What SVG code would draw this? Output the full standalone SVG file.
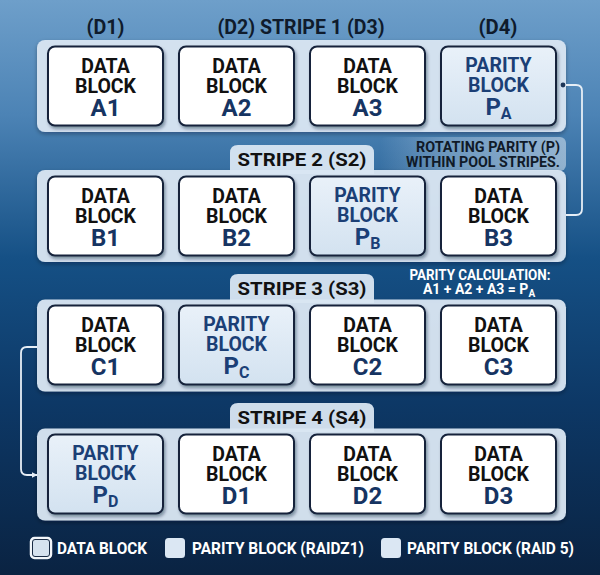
<svg xmlns="http://www.w3.org/2000/svg" width="600" height="575" viewBox="0 0 600 575">
<defs>
<linearGradient id="bg" x1="0" y1="0" x2="0" y2="1">
<stop offset="0" stop-color="#6e9fca"/>
<stop offset="0.2" stop-color="#4c83b5"/>
<stop offset="0.45" stop-color="#155085"/>
<stop offset="0.7" stop-color="#0d3866"/>
<stop offset="1" stop-color="#0a2342"/>
</linearGradient>
<linearGradient id="pfill" x1="0" y1="0" x2="0" y2="1">
<stop offset="0" stop-color="#e9f1f9"/>
<stop offset="1" stop-color="#d3e2f0"/>
</linearGradient>
<linearGradient id="noteBg" x1="0" y1="0" x2="1" y2="0">
<stop offset="0" stop-color="#dbe7f2" stop-opacity="0"/>
<stop offset="0.35" stop-color="#dbe7f2" stop-opacity="0.3"/>
<stop offset="1" stop-color="#dbe7f2" stop-opacity="0.55"/>
</linearGradient>
<filter id="sh" x="-10%" y="-10%" width="130%" height="130%">
<feDropShadow dx="1.5" dy="2.5" stdDeviation="1.6" flood-color="#0a1a30" flood-opacity="0.4"/>
</filter>
<filter id="psh" x="-5%" y="-10%" width="110%" height="130%">
<feDropShadow dx="0" dy="2" stdDeviation="2" flood-color="#04101f" flood-opacity="0.35"/>
</filter>
<marker id="arr" viewBox="0 0 10 10" refX="9" refY="5" markerWidth="6" markerHeight="6" orient="auto" markerUnits="userSpaceOnUse">
<path d="M0,0 L10,5 L0,10 z" fill="#e6eef6"/>
</marker>
</defs>
<style>
text{font-family:Roboto,"Liberation Sans",sans-serif;font-weight:700}
.panel{fill:#d9e6f2;fill-opacity:0.95}
.box{fill:#ffffff;stroke:#14233a;stroke-width:2}
.pbox{fill:url(#pfill);stroke:#14233a;stroke-width:2}
.hdr{font-size:20px;fill:#0f1b2c;text-anchor:middle}
.tab{font-size:19px;fill:#111111;text-anchor:middle}
.bt{font-size:19.5px;fill:#111111;text-anchor:middle}
.bl{font-size:24px;fill:#163462;text-anchor:middle}
.pt{font-size:19.5px;fill:#1b3f76;text-anchor:middle}
.pl{font-size:24px;fill:#1b3f76;text-anchor:middle}
.sub{font-size:16px}
.note{font-size:14px;fill:#101a28;text-anchor:end}
.calc{font-size:14px;fill:#ffffff;text-anchor:middle}
.leg{font-size:16px;fill:#ffffff}
.conn{fill:none;stroke:#e6eef6;stroke-width:1.8}
</style>
<rect width="600" height="575" fill="url(#bg)"/>

<g id="headers">
<text class="hdr" x="105.5" y="34" textLength="38" lengthAdjust="spacingAndGlyphs">(D1)</text>
<text class="hdr" x="301" y="34" textLength="167" lengthAdjust="spacingAndGlyphs">(D2) STRIPE 1 (D3)</text>
<text class="hdr" x="498" y="34" textLength="39" lengthAdjust="spacingAndGlyphs">(D4)</text>
</g>

<rect x="380" y="137" width="186" height="34" rx="6" fill="url(#noteBg)"/>

<g id="stripe1">
<rect class="panel" x="37" y="40" width="529" height="92" rx="8" filter="url(#psh)"/>
</g>
<g id="stripe2">
<rect class="panel" x="37" y="170" width="529" height="92" rx="8" filter="url(#psh)"/>
<path class="panel" d="M230,174 V153 Q230,145 238,145 H366 Q374,145 374,153 V174 Z" fill-opacity="1"/>
<text class="tab" x="302" y="166" textLength="129" lengthAdjust="spacingAndGlyphs">STRIPE 2 (S2)</text>
</g>
<g id="stripe3">
<rect class="panel" x="37" y="299.5" width="529" height="92" rx="8" filter="url(#psh)"/>
<path class="panel" d="M230,303 V282 Q230,274 238,274 H366 Q374,274 374,282 V303 Z" fill-opacity="1"/>
<text class="tab" x="302" y="295" textLength="129" lengthAdjust="spacingAndGlyphs">STRIPE 3 (S3)</text>
</g>
<g id="stripe4">
<rect class="panel" x="37" y="428.5" width="529" height="92" rx="8" filter="url(#psh)"/>
<path class="panel" d="M230,432 V411 Q230,403 238,403 H366 Q374,403 374,411 V432 Z" fill-opacity="1"/>
<text class="tab" x="302" y="424" textLength="129" lengthAdjust="spacingAndGlyphs">STRIPE 4 (S4)</text>
</g>

<g id="note-rotating">
<text class="note" x="560" y="152" textLength="144" lengthAdjust="spacingAndGlyphs">ROTATING PARITY (P)</text>
<text class="note" x="560" y="167" textLength="154" lengthAdjust="spacingAndGlyphs">WITHIN POOL STRIPES.</text>
</g>
<g id="note-calc">
<text class="calc" x="480" y="280" textLength="141" lengthAdjust="spacingAndGlyphs">PARITY CALCULATION:</text>
<text class="calc" x="479" y="294">A1 + A2 + A3 = P<tspan font-size="10px" dy="3">A</tspan></text>
</g>

<g id="A1"><rect class="box" x="48" y="46.5" width="115" height="79" rx="7" filter="url(#sh)"/>
<text class="bt" x="105.5" y="72.5">DATA</text><text class="bt" x="105.5" y="92.5">BLOCK</text><text class="bl" x="105.5" y="115.5">A1</text></g>
<g id="A2"><rect class="box" x="179" y="46.5" width="115" height="79" rx="7" filter="url(#sh)"/>
<text class="bt" x="236.5" y="72.5">DATA</text><text class="bt" x="236.5" y="92.5">BLOCK</text><text class="bl" x="236.5" y="115.5">A2</text></g>
<g id="A3"><rect class="box" x="310" y="46.5" width="115" height="79" rx="7" filter="url(#sh)"/>
<text class="bt" x="367.5" y="72.5">DATA</text><text class="bt" x="367.5" y="92.5">BLOCK</text><text class="bl" x="367.5" y="115.5">A3</text></g>
<g id="PA"><rect class="pbox" x="441" y="46.5" width="115" height="79" rx="7" filter="url(#sh)"/>
<text class="pt" x="498.5" y="71.5">PARITY</text><text class="pt" x="498.5" y="91.5">BLOCK</text><text class="pl" x="498.5" y="114.5">P<tspan class="sub" dy="4">A</tspan></text></g>

<g id="B1"><rect class="box" x="48" y="176.5" width="115" height="79" rx="7" filter="url(#sh)"/>
<text class="bt" x="105.5" y="202.5">DATA</text><text class="bt" x="105.5" y="222.5">BLOCK</text><text class="bl" x="105.5" y="245.5">B1</text></g>
<g id="B2"><rect class="box" x="179" y="176.5" width="115" height="79" rx="7" filter="url(#sh)"/>
<text class="bt" x="236.5" y="202.5">DATA</text><text class="bt" x="236.5" y="222.5">BLOCK</text><text class="bl" x="236.5" y="245.5">B2</text></g>
<g id="PB"><rect class="pbox" x="310" y="176.5" width="115" height="79" rx="7" filter="url(#sh)"/>
<text class="pt" x="367.5" y="201.5">PARITY</text><text class="pt" x="367.5" y="221.5">BLOCK</text><text class="pl" x="367.5" y="244.5">P<tspan class="sub" dy="4">B</tspan></text></g>
<g id="B3"><rect class="box" x="441" y="176.5" width="115" height="79" rx="7" filter="url(#sh)"/>
<text class="bt" x="498.5" y="202.5">DATA</text><text class="bt" x="498.5" y="222.5">BLOCK</text><text class="bl" x="498.5" y="245.5">B3</text></g>

<g id="C1"><rect class="box" x="48" y="305.5" width="115" height="79" rx="7" filter="url(#sh)"/>
<text class="bt" x="105.5" y="331.5">DATA</text><text class="bt" x="105.5" y="351.5">BLOCK</text><text class="bl" x="105.5" y="374.5">C1</text></g>
<g id="PC"><rect class="pbox" x="179" y="305.5" width="115" height="79" rx="7" filter="url(#sh)"/>
<text class="pt" x="236.5" y="330.5">PARITY</text><text class="pt" x="236.5" y="350.5">BLOCK</text><text class="pl" x="236.5" y="373.5">P<tspan class="sub" dy="4">C</tspan></text></g>
<g id="C2"><rect class="box" x="310" y="305.5" width="115" height="79" rx="7" filter="url(#sh)"/>
<text class="bt" x="367.5" y="331.5">DATA</text><text class="bt" x="367.5" y="351.5">BLOCK</text><text class="bl" x="367.5" y="374.5">C2</text></g>
<g id="C3"><rect class="box" x="441" y="305.5" width="115" height="79" rx="7" filter="url(#sh)"/>
<text class="bt" x="498.5" y="331.5">DATA</text><text class="bt" x="498.5" y="351.5">BLOCK</text><text class="bl" x="498.5" y="374.5">C3</text></g>

<g id="PD"><rect class="pbox" x="48" y="434.5" width="115" height="79" rx="7" filter="url(#sh)"/>
<text class="pt" x="105.5" y="459.5">PARITY</text><text class="pt" x="105.5" y="479.5">BLOCK</text><text class="pl" x="105.5" y="502.5">P<tspan class="sub" dy="4">D</tspan></text></g>
<g id="D1"><rect class="box" x="179" y="434.5" width="115" height="79" rx="7" filter="url(#sh)"/>
<text class="bt" x="236.5" y="460.5">DATA</text><text class="bt" x="236.5" y="480.5">BLOCK</text><text class="bl" x="236.5" y="503.5">D1</text></g>
<g id="D2"><rect class="box" x="310" y="434.5" width="115" height="79" rx="7" filter="url(#sh)"/>
<text class="bt" x="367.5" y="460.5">DATA</text><text class="bt" x="367.5" y="480.5">BLOCK</text><text class="bl" x="367.5" y="503.5">D2</text></g>
<g id="D3"><rect class="box" x="441" y="434.5" width="115" height="79" rx="7" filter="url(#sh)"/>
<text class="bt" x="498.5" y="460.5">DATA</text><text class="bt" x="498.5" y="480.5">BLOCK</text><text class="bl" x="498.5" y="503.5">D3</text></g>

<g id="connectors">
<path class="conn" d="M563,85 H576 Q582,85 582,91 V209 Q582,215 576,215 H566"/>
<circle cx="563" cy="85" r="2.4" fill="#1d3557"/>
<path class="conn" d="M37,347 H27 Q21,347 21,353 V469 Q21,475 27,475 H37" marker-end="url(#arr)"/>
</g>

<g id="legend">
<rect x="31" y="538" width="20" height="20" rx="3.5" fill="#d6e2ee" stroke="#f2f6fa" stroke-width="2.5"/>
<rect x="32.5" y="539.5" width="17" height="17" rx="2.5" fill="none" stroke="#1a2b44" stroke-width="1"/>
<text class="leg" x="57" y="554" textLength="90" lengthAdjust="spacingAndGlyphs">DATA BLOCK</text>
<rect x="165" y="538" width="20" height="20" rx="3.5" fill="#dbe7f3"/>
<text class="leg" x="192" y="554" textLength="172" lengthAdjust="spacingAndGlyphs">PARITY BLOCK (RAIDZ1)</text>
<rect x="381" y="538" width="20" height="20" rx="3.5" fill="#dbe7f3"/>
<text class="leg" x="407" y="554" textLength="167" lengthAdjust="spacingAndGlyphs">PARITY BLOCK (RAID 5)</text>
</g>
</svg>
